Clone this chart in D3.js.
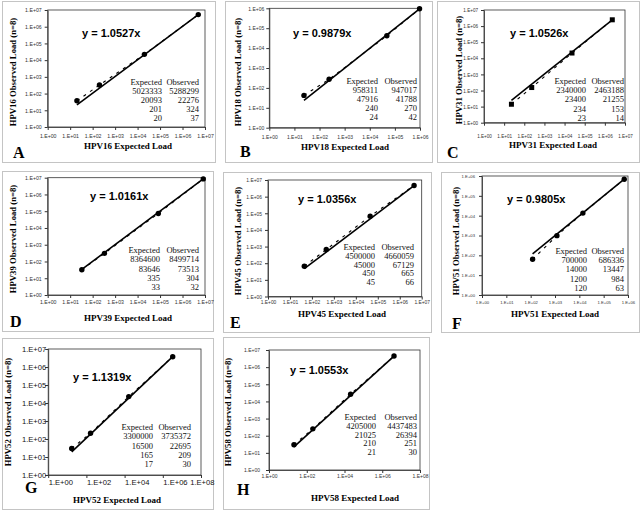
<!DOCTYPE html>
<html><head><meta charset="utf-8">
<script src="https://cdn.jsdelivr.net/npm/d3@7"></script>
<style>body{margin:0;background:#fff}svg{display:block}</style>
</head><body>
<svg id="chart" width="640" height="511"></svg>
<script>
// ---- data ----
const panelLetters = ["A","B","C","D","E","F","G","H"];
const hpvTypes = ["HPV16","HPV18","HPV31","HPV39","HPV45","HPV51","HPV52","HPV58"];
const slopes = [1.0527, 0.9879, 1.0526, 1.0161, 1.0356, 0.9805, 1.1319, 1.0553];
const expectedLoads = [
  [5023333, 20093, 201, 20],
  [958311, 47916, 240, 24],
  [2340000, 23400, 234, 23],
  [8364600, 83646, 335, 33],
  [4500000, 45000, 450, 45],
  [700000, 14000, 1200, 120],
  [3300000, 16500, 165, 17],
  [4205000, 21025, 210, 21]
];
const observedLoads = [
  [5288299, 22276, 324, 37],
  [947017, 41788, 270, 42],
  [2463188, 21255, 153, 14],
  [8499714, 73513, 304, 32],
  [4660059, 67129, 665, 66],
  [686336, 13447, 984, 63],
  [3735372, 22695, 209, 30],
  [4437483, 26394, 251, 30]
];
const xMaxExp = [7, 6, 7, 7, 7, 6, 8, 8];
const yMaxExp = [7, 6, 7, 7, 7, 6, 7, 7];
const xTickStep = [1, 1, 1, 1, 1, 1, 2, 2];
const markerShape = ["circle","circle","square","circle","circle","circle","circle","circle"];
const tableHeaders = ["Expected", "Observed"];

// ---- layout (positions only) ----
const layout = [
  {box:[2,1,213,161], plot:[47.7,205,10,127], ylg:6, xlb:138, ytx:13, ytcy:72, xty:146, xtcx:128, letter:[13,158], eq:[82,37], tab:[162,199,82,9], tf:5.2},
  {box:[225,1,207,161], plot:[269.3,420,8.3,127.7], ylg:5, xlb:139, ytx:238, ytcy:72, xty:147, xtcx:345, letter:[240,157], eq:[293,37], tab:[378,417,81,9], tf:5},
  {box:[437,1,202,161], plot:[484,625,10,122.7], ylg:6, xlb:138, ytx:459, ytcy:70, xty:145, xtcx:553, letter:[447,158], eq:[510,37], tab:[586,624,81,9.2], tf:4.6},
  {box:[2,171,211,160], plot:[47.7,205,177.7,295], ylg:6, xlb:304, ytx:13, ytcy:239, xty:318, xtcx:128, letter:[10,327], eq:[90,200], tab:[160,199,250,9.3], tf:5.2},
  {box:[223,172,208,160], plot:[268,421.7,180,296.5], ylg:6, xlb:304, ytx:238, ytcy:241, xty:314, xtcx:342, letter:[230,328], eq:[298,203], tab:[375,414,247,8.8], tf:4.9},
  {box:[441,172,198,160], plot:[482,628,176,295], ylg:7, xlb:304, ytx:456, ytcy:241, xty:314, xtcx:555, letter:[452,329], eq:[507,203], tab:[587,624,251,9.2], tf:4.2},
  {box:[2,338,211,171], plot:[48.2,201,349,475], ylg:2, xlb:485, ytx:8, ytcy:412, xty:500, xtcx:117, letter:[25,493], eq:[73,381], tab:[153,191,427,9.3], tf:7.6, xStart:true},
  {box:[223,337,206,172], plot:[269,420,350,470], ylg:9, xlb:478, ytx:228, ytcy:412, xty:498, xtcx:355, letter:[237,495], eq:[290,374], tab:[376,417,417,8.8], tf:5}
];

const svg = d3.select("#chart");
svg.append("rect").attr("width",640).attr("height",511).attr("fill","#fff");
const fmt = v => { const e = Math.round(Math.log10(v)); return "1.E+" + (e < 10 ? "0" + e : e); };
const SANS = "'Liberation Sans', Arial, sans-serif";
const SERIF = "'Liberation Serif', 'Times New Roman', serif";

panelLetters.forEach((letter, i) => {
  const L = layout[i];
  const g = svg.append("g");
  g.append("rect").attr("x", L.box[0]+0.5).attr("y", L.box[1]+0.5)
    .attr("width", L.box[2]).attr("height", L.box[3])
    .attr("fill","none").attr("stroke","#c4c4c4").attr("stroke-width",1);

  const [pl, pr, pt, pb] = L.plot;
  const x = d3.scaleLog().domain([1, Math.pow(10, xMaxExp[i])]).range([pl, pr]);
  const y = d3.scaleLog().domain([1, Math.pow(10, yMaxExp[i])]).range([pb, pt]);

  // plot frame
  g.append("rect").attr("x", pl).attr("y", pt).attr("width", pr-pl).attr("height", pb-pt)
    .attr("fill","none").attr("stroke","#333").attr("stroke-width",0.8);

  const xt = d3.range(0, xMaxExp[i]+1, xTickStep[i]).map(e => Math.pow(10, e));
  const yt = d3.range(0, yMaxExp[i]+1).map(e => Math.pow(10, e));

  const xa = g.append("g").attr("transform", `translate(0,${pb})`)
    .call(d3.axisBottom(x).tickValues(xt).tickFormat(fmt).tickSize(3).tickSizeOuter(0));
  xa.select(".domain").attr("stroke","#333").attr("stroke-width",0.8);
  xa.selectAll(".tick line").attr("stroke","#333");
  const xtexts = xa.selectAll(".tick text")
    .attr("y", L.xlb - pb).attr("dy", 0)
    .attr("font-family", SANS).attr("font-size", L.tf).attr("fill", L.xStart ? "#111" : "#333");
  if (L.xStart) {
    const n = xt.length;
    xtexts.attr("text-anchor", (d, k) => k === n-1 ? "end" : "start")
      .attr("x", (d, k) => k === n-1 ? (L.box[0] + L.box[2] + 1 - x(d)) : 0);
  }

  const ya = g.append("g").attr("transform", `translate(${pl},0)`)
    .call(d3.axisLeft(y).tickValues(yt).tickFormat(fmt).tickSize(3).tickSizeOuter(0));
  ya.select(".domain").attr("stroke","#333").attr("stroke-width",0.8);
  ya.selectAll(".tick line").attr("stroke","#333");
  ya.selectAll(".tick text").attr("x", -L.ylg).attr("dy","0.35em")
    .attr("font-family", SANS).attr("font-size", L.tf).attr("fill", L.xStart ? "#111" : "#333");

  // data
  const pts = expectedLoads[i].map((e, k) => ({e, o: observedLoads[i][k]})).sort((a,b) => a.e - b.e);
  const line = d3.line().x(d => x(d.e)).y(d => y(d.o));
  g.append("path").datum(pts).attr("d", line).attr("fill","none")
    .attr("stroke","#000").attr("stroke-width",1.1).attr("stroke-dasharray","3,5");

  const ex = d3.extent(expectedLoads[i]);
  const trend = ex.map(v => ({e: v, o: slopes[i]*v}));
  g.append("path").datum(trend).attr("d", line).attr("fill","none")
    .attr("stroke","#000").attr("stroke-width",1.6);

  if (markerShape[i] === "square") {
    g.selectAll(null).data(pts).join("rect")
      .attr("x", d => x(d.e)-2.5).attr("y", d => y(d.o)-2.5).attr("width",5).attr("height",5).attr("fill","#000");
  } else {
    g.selectAll(null).data(pts).join("circle")
      .attr("cx", d => x(d.e)).attr("cy", d => y(d.o)).attr("r",2.7).attr("fill","#000");
  }

  // equation
  g.append("text").attr("x", L.eq[0]).attr("y", L.eq[1])
    .attr("font-family", SANS).attr("font-weight","bold").attr("font-size",11)
    .text(`y = ${slopes[i].toFixed(4)}x`);

  // table
  const [er, orr, ty0, tdy] = L.tab;
  const rows = [tableHeaders].concat(expectedLoads[i].map((e, k) => [String(e), String(observedLoads[i][k])]));
  rows.forEach((r, k) => {
    g.append("text").attr("x", er).attr("y", ty0 + k*tdy + 3).attr("text-anchor","end")
      .attr("font-family", SERIF).attr("font-size",8.5).attr("fill","#111").text(r[0]);
    g.append("text").attr("x", orr).attr("y", ty0 + k*tdy + 3).attr("text-anchor","end")
      .attr("font-family", SERIF).attr("font-size",8.5).attr("fill","#111").text(r[1]);
  });

  // axis titles
  g.append("text").attr("x", L.xtcx).attr("y", L.xty + 3).attr("text-anchor","middle")
    .attr("font-family", SERIF).attr("font-weight","bold").attr("font-size",9)
    .text(`${hpvTypes[i]} Expected Load`);
  g.append("text").attr("transform", `translate(${L.ytx+3},${L.ytcy}) rotate(-90)`)
    .attr("text-anchor","middle")
    .attr("font-family", SERIF).attr("font-weight","bold").attr("font-size",8.7)
    .text(`${hpvTypes[i]} Observed Load (n=8)`);

  // panel letter
  g.append("text").attr("x", L.letter[0]).attr("y", L.letter[1])
    .attr("font-family", SERIF).attr("font-weight","bold").attr("font-size",16)
    .text(letter);
});
</script>
</body></html>
